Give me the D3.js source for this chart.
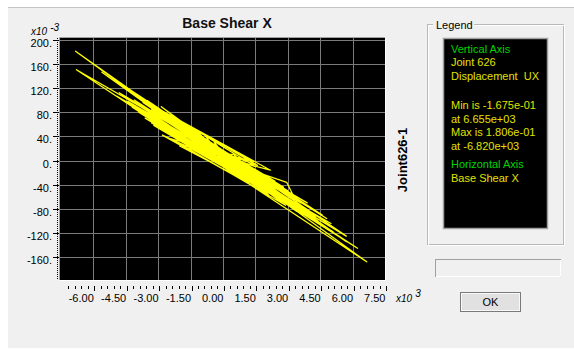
<!DOCTYPE html>
<html>
<head>
<meta charset="utf-8">
<script src="https://cdn.jsdelivr.net/npm/d3@7"></script>
<style>
body { margin: 0; background: #fff; }
svg { display: block; font-family: Arial, "Liberation Sans", sans-serif; }
text { white-space: pre; }
</style>
</head>
<body>
<div id="main"></div>
<script>
// tick values
const xTicks = [-6, -4.5, -3, -1.5, 0, 1.5, 3, 4.5, 6, 7.5];
const yTicks = [200, 160, 120, 80, 40, 0, -40, -80, -120, -160];

// base shear X (x10^3) and joint 626 displacement UX (x10^-3), in time order
const shear = [0.3, -1.5, 1.8, -2.6, 2.4, -3.2, 3.0, -2.2, 2.7, -3.8,
    3.6, -4.4, 4.2, -3.4, 3.3, -2.8, 2.1, -1.9, 1.4, -2.4,
    2.9, -4.0, 4.6, -5.0, 5.1, -4.6, 3.9, -3.6, 2.6, -1.6,
    1.2, -2.0, 2.2, -3.0, 3.4, -5.6, 5.7, -6.82, 6.655, -6.78,
    3.9, -4.8, 6.23, -4.2, 5.71, -3.5, 4.4, -2.85, 3.2, -3.9,
    5.0, -2.6, 1.6, -1.3, 0.9, -1.0, 0.5, 1.24, 2.95, 3.41,
    -2.3, 1.9, -3.3, 2.8, -1.8, 3.7, -4.3, 4.8, -3.1, 2.5,
    -2.7, 2.0, -1.4, 1.1, -2.2, 3.0, -3.7, 4.1, -4.9, 4.5,
    -3.3, 2.3, -1.7, 1.5, -0.8, 0.6, -0.4, 0.2, -2.5, 3.1,
    -3.5, 2.6, -1.2, 1.7, -2.9, 3.5, -4.1, 4.3, -0.9, 0.8];
const disp = [2, 50, -40, 72, -34, 58, -72, 60, -62, 104,
    -70, 98, -96, 92, -58, 42, -56, 62, -2, 36,
    -74, 110, -90, 108, -118, 124, -74, 70, -64, 56,
    -36, 24, -16, 86, -84, 146, -134, 180.6, -167.5, 150,
    -70, 112, -145, 88, -125, 99, -100, 89, -76, 80,
    -104, 46, -8, 52, -28, 10, 10, -15, -36, -69,
    70, -50, 62, -44, 56, -88, 114, -96, 80, -60,
    54, -30, 18, -30, 66, -50, 96, -94, 106, -88,
    84, -54, 30, -10, 40, -24, 30, 4, 62, -70,
    76, -48, 36, -36, 74, -76, 100, -92, 14, -4];

// legend texts
const legendVertical = ["Vertical Axis", "Joint 626", "Displacement  UX"];
const legendStats = ["Min is -1.675e-01", "at 6.655e+03", "Max is 1.806e-01", "at -6.820e+03"];
const legendHorizontal = ["Horizontal Axis", "Base Shear X"];

width = 574;
height = 349;
margin = ({top: 38, right: 189, bottom: 69, left: 60});

x = d3.scaleLinear()
    .domain([-7.54, 7.5])
    .range([margin.left, width - margin.right]);

y = d3.scaleLinear()
    .domain([-197.5, 202.5])
    .range([height - margin.bottom, margin.top]);

function chart() {
    const svg = d3.create("svg")
        .attr("width", width)
        .attr("height", height)
        .attr("viewBox", [0, 0, width, height]);

    // dialog face
    svg.append("rect")
        .attr("x", 8).attr("y", 7)
        .attr("width", width - 8).attr("height", height - 8)
        .attr("fill", "#f0f0f0");
    svg.append("line")
        .attr("x1", 8).attr("x2", width).attr("y1", 7.5).attr("y2", 7.5)
        .attr("stroke", "#c4c4c4");

    // title
    svg.append("text")
        .attr("x", 227).attr("y", 28)
        .attr("text-anchor", "middle")
        .attr("font-weight", "bold")
        .attr("font-size", 14)
        .attr("fill", "#111")
        .text("Base Shear X");

    // plot area
    const x0 = margin.left, x1 = width - margin.right;
    const y0 = margin.top, y1 = height - margin.bottom;
    svg.append("rect")
        .attr("x", x0).attr("y", y0)
        .attr("width", x1 - x0).attr("height", y1 - y0)
        .attr("fill", "#000");

    svg.append("defs").append("clipPath").attr("id", "clip")
        .append("rect")
        .attr("x", x0).attr("y", y0)
        .attr("width", x1 - x0).attr("height", y1 - y0);

    // grid
    const grid = svg.append("g")
        .attr("stroke", "#7a7a7a")
        .attr("stroke-width", 1);
    grid.selectAll(".v")
        .data(xTicks)
        .join("line")
        .attr("x1", d => Math.round(x(d)) + 0.5)
        .attr("x2", d => Math.round(x(d)) + 0.5)
        .attr("y1", y0).attr("y2", y1);
    grid.selectAll(".h")
        .data(yTicks)
        .join("line")
        .attr("x1", x0).attr("x2", x1)
        .attr("y1", d => Math.round(y(d)) + 0.5)
        .attr("y2", d => Math.round(y(d)) + 0.5);

    // response curve
    const line = d3.line()
        .x((d, i) => x(shear[i]))
        .y((d, i) => y(disp[i]));
    svg.append("path")
        .attr("clip-path", "url(#clip)")
        .attr("fill", "none")
        .attr("stroke", "#ffff00")
        .attr("stroke-width", 1.25)
        .attr("stroke-linejoin", "round")
        .attr("d", line(shear));

    // sunken frame of plot
    svg.append("path")
        .attr("fill", "none")
        .attr("stroke", "#a0a0a0")
        .attr("d", `M${x0 - 0.5},${y1}V${y0 - 0.5}H${x1}`);
    svg.append("path")
        .attr("fill", "none")
        .attr("stroke", "#ffffff")
        .attr("d", `M${x1 + 0.5},${y0}V${y1 + 0.5}H${x0}`);

    // y axis
    svg.append("line")
        .attr("x1", x0 - 2.5).attr("x2", x0 - 2.5)
        .attr("y1", y0).attr("y2", y1)
        .attr("stroke", "#000")
        .attr("stroke-dasharray", "1,1");
    svg.append("g")
        .attr("stroke", "#000")
        .selectAll("line")
        .data(yTicks)
        .join("line")
        .attr("x1", x0 - 7).attr("x2", x0 - 1)
        .attr("y1", d => Math.round(y(d)) + 0.5)
        .attr("y2", d => Math.round(y(d)) + 0.5);
    svg.append("g")
        .attr("font-size", 11)
        .attr("text-anchor", "end")
        .attr("fill", "#000")
        .selectAll("text")
        .data(yTicks)
        .join("text")
        .attr("x", x0 - 8)
        .attr("y", d => y(d) + 7)
        .text(d => d + ".");

    // x axis
    const xMinor = d3.range(-7.2, 7.51, 0.3).filter(v => x(v) >= x0);
    svg.append("g")
        .attr("stroke", "#000")
        .selectAll("line")
        .data(xMinor)
        .join("line")
        .attr("x1", d => Math.round(x(d)) + 1.5)
        .attr("x2", d => Math.round(x(d)) + 1.5)
        .attr("y1", 286)
        .attr("y2", d => xTicks.some(t => Math.abs(t - d) < 1e-6) ? 291 : 289);
    svg.append("g")
        .attr("font-size", 11)
        .attr("text-anchor", "end")
        .attr("fill", "#000")
        .selectAll("text")
        .data(xTicks)
        .join("text")
        .attr("x", d => x(d) + 0.5)
        .attr("y", 302)
        .text(d => d.toFixed(2));

    // exponents
    const e1 = svg.append("text")
        .attr("x", 31).attr("y", 35)
        .attr("font-size", 10).attr("font-style", "italic");
    e1.append("tspan").text("x10");
    e1.append("tspan").attr("dx", 3).attr("dy", -4).text("-3");
    const e2 = svg.append("text")
        .attr("x", 396).attr("y", 302)
        .attr("font-size", 10).attr("font-style", "italic");
    e2.append("tspan").text("x10");
    e2.append("tspan").attr("dx", 3).attr("dy", -5).text("3");

    // side label
    svg.append("text")
        .attr("transform", "translate(407,160) rotate(-90)")
        .attr("text-anchor", "middle")
        .attr("font-weight", "bold")
        .attr("font-size", 13)
        .text("Joint626-1");

    // legend group box
    svg.append("rect")
        .attr("x", 427.5).attr("y", 24.5)
        .attr("width", 136).attr("height", 220)
        .attr("fill", "none").attr("stroke", "#b8b8b8");
    svg.append("rect")
        .attr("x", 428.5).attr("y", 25.5)
        .attr("width", 136).attr("height", 220)
        .attr("fill", "none").attr("stroke", "#ffffff");
    svg.append("rect")
        .attr("x", 433).attr("y", 18)
        .attr("width", 41).attr("height", 12)
        .attr("fill", "#f0f0f0");
    svg.append("text")
        .attr("x", 436).attr("y", 29)
        .attr("font-size", 11)
        .text("Legend");

    svg.append("rect")
        .attr("x", 443.5).attr("y", 38.5)
        .attr("width", 104).attr("height", 190)
        .attr("fill", "#000")
        .attr("stroke", "#a0a0a0")
        .attr("stroke-width", 1.5);

    const blocks = [
        {lines: legendVertical, top: 52.5, head: true},
        {lines: legendStats, top: 109, head: false},
        {lines: legendHorizontal, top: 168, head: true}
    ];
    const lg = svg.append("g").attr("font-size", 11);
    blocks.forEach(b => {
        lg.append("g")
            .selectAll("text")
            .data(b.lines)
            .join("text")
            .attr("x", 451)
            .attr("y", (d, i) => b.top + i * 13.7)
            .attr("fill", (d, i) => b.head && i === 0 ? "#00d400" : "#e2e200")
            .text(d => d);
    });

    // empty status box
    svg.append("rect")
        .attr("x", 435.5).attr("y", 259.5)
        .attr("width", 125).attr("height", 17)
        .attr("fill", "#f0f0f0").attr("stroke", "#a0a0a0");
    svg.append("path")
        .attr("fill", "none").attr("stroke", "#fff")
        .attr("d", "M436,276.5H560.5V260");

    // OK button
    svg.append("rect")
        .attr("x", 460.5).attr("y", 292.5)
        .attr("width", 60).attr("height", 19)
        .attr("fill", "#e1e1e1").attr("stroke", "#7a7a7a");
    svg.append("rect")
        .attr("x", 461.5).attr("y", 293.5)
        .attr("width", 58).attr("height", 17)
        .attr("fill", "none").attr("stroke", "#f8f8f8");
    svg.append("text")
        .attr("x", 490.5).attr("y", 306)
        .attr("text-anchor", "middle")
        .attr("font-size", 11)
        .text("OK");

    return svg.node();
}

d3.select("#main").append(() => chart());
</script>
</body>
</html>
